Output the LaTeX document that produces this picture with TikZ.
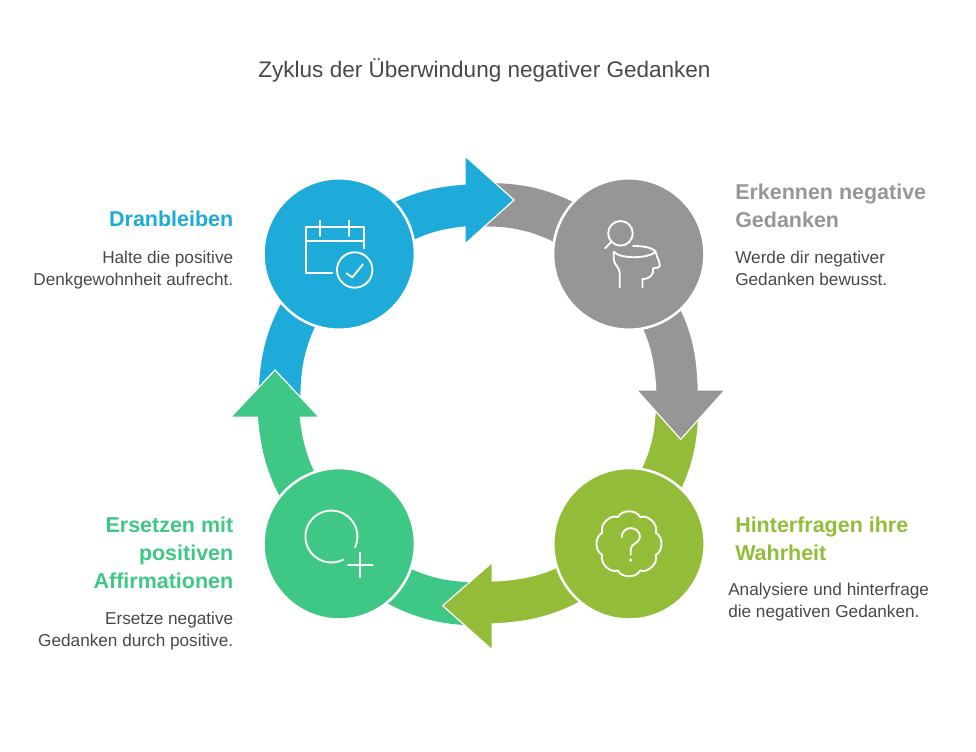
\documentclass[tikz,border=0pt]{standalone}
\usepackage{fontspec}
\setmainfont{Liberation Sans}
\definecolor{ringblue}{HTML}{1EABDA}
\definecolor{ringgray}{HTML}{969696}
\definecolor{ringlime}{HTML}{93BD39}
\definecolor{ringgreen}{HTML}{3FC786}
\definecolor{inktext}{HTML}{484848}
\tikzset{
ball/.style={circle, draw=white, line width=1.9pt, inner sep=0pt, outer sep=0pt, minimum size=113.6pt},
head/.style={draw=white, line width=0.9pt, miter limit=10},
icon/.style={draw=white, line width=1.4pt, line cap=round, line join=round},
titletext/.style={inner sep=0pt, text=inktext, font=\fontsize{16.9pt}{21pt}\selectfont},
headtext/.style={inner sep=0pt, font=\fontsize{16.1pt}{20.8pt}\selectfont\bfseries},
bodytext/.style={inner sep=0pt, text=inktext, font=\fontsize{12.9pt}{16.5pt}\selectfont},
calendar/.pic={
  \draw[icon] (-6.8,18.7) -- (-33.5,18.7) -- (-33.5,-27.3) -- (24.8,-27.3) -- (24.8,-5.7);
  \draw[icon] (-33.5,-13.3) -- (24.8,-13.3);
  \draw[icon] (-19.5,-33.3) -- (-19.5,-18);
  \draw[icon] (9.5,-33.3) -- (9.5,-18);
  \draw[icon] (15.5,16) circle [radius=17.7];
  \draw[icon] (7.2,19.3) -- (13.2,23.3) -- (23.8,10.3);
  },
headlens/.pic={
  \draw[icon] (-8.3,-20.7) circle [radius=12.3];
  \draw[icon] (-17.3,-12.3) -- (-23.7,-5.7);
  \draw[icon] (4.3,-8) .. controls (13,-8) and (23,-7) .. (26.7,-2.3) .. controls (22,4) and (-8,6) .. (-15,-2.3);
  \draw[icon] (26.7,-2.3) .. controls (28,3) and (31,7) .. (31,12) .. controls (30,14) and (26,14) .. (24.3,14.3) .. controls (25,20) and (22,25) .. (13.7,25) -- (13.7,33.3);
  \draw[icon] (-15,-2.3) -- (-15,6) .. controls (-14,12) and (-9,13) .. (-9,20) -- (-9,33.3);
  },
cloudask/.pic={
  \foreach \a in {0,45,...,315}
    \draw[icon] (\a-22.5:29) to[bend left=62] (\a+22.5:29);
  \draw[icon] (-7.3,-6.7) .. controls (-7.3,-12) and (-3,-15.7) .. (1.7,-15.7) .. controls (7,-15.7) and (11,-12) .. (11,-6.7) .. controls (11,-1) and (1.7,0) .. (1.7,5.3) -- (1.7,11);
  \fill[white] (1.7,16.3) circle [radius=1.8];
  },
ringplus/.pic={
  \draw[icon] (-7.8,-7.3) ++(62:26) arc [start angle=62, end angle=385, radius=26];
  \draw[icon] (21.2,9) -- (21.2,33.6);
  \draw[icon] (8.9,21.3) -- (33.5,21.3);
  }
}
\begin{document}
\begin{tikzpicture}[x=0.75pt, y=-0.75pt]
  \useasboundingbox (0,0) rectangle (976,751);
  \node[titletext] (title) at (484.5,70.5) {Zyklus der Überwindung negativer Gedanken};

  \coordinate (bluec) at (339.2,254);
  \coordinate (grayc) at (628.8,254);
  \coordinate (limec) at (629,543.8);
  \coordinate (greenc) at (339.2,543.8);

  \fill[ringgray] (484,183) to[bend left=14] (585,208) -- (grayc) -- (575,254) to[bend right=18] (470,227) -- cycle;
  \fill[ringlime] (698.5,405) to[bend left=15] (667,515) -- (limec) -- (630,490) to[bend right=16] (656,400) -- cycle;
  \fill[ringgreen] (490,625.5) to[bend left=17] (365,590) -- (greenc) -- (385,555) to[bend right=17] (490,582) -- cycle;
  \fill[ringblue] (258.5,400) to[bend left=16] (295,280) -- (bluec) -- (330,300) to[bend right=17] (300.5,405) -- cycle;

  \filldraw[ringblue, head] (bluec) -- (375,212) to[bend left=13] (465,184) -- (465,156) -- (514,200) -- (465,244) -- (465,227) to[bend right=12] (398,249) -- cycle;
  \filldraw[ringgray, head] (grayc) -- (664,280) to[bend left=16] (698.3,390) -- (725,390) -- (680.7,439.3) -- (636.7,390) -- (655.7,390) to[bend right=18] (618,291) -- cycle;
  \filldraw[ringlime, head] (limec) -- (602,589) to[bend left=15] (492.3,624) -- (492.3,650) -- (442.7,605.7) -- (492.3,562.3) -- (492.3,581) to[bend right=17] (592,546) -- cycle;
  \filldraw[ringgreen, head] (greenc) -- (293,520) to[bend left=14] (257.3,417.3) -- (230.7,417.3) -- (275,370) -- (319.3,417.3) -- (300.3,417.3) to[bend right=12] (325,490) -- cycle;

  \node[ball, fill=ringblue] (dranbleiben) at (bluec) {};
  \node[ball, fill=ringgray] (erkennen) at (grayc) {};
  \node[ball, fill=ringlime] (hinterfragen) at (limec) {};
  \node[ball, fill=ringgreen] (ersetzen) at (greenc) {};

  \pic at (dranbleiben) {calendar};
  \pic at (erkennen) {headlens};
  \pic at (hinterfragen) {cloudask};
  \pic at (ersetzen) {ringplus};

  \node[headtext, text=ringblue, anchor=north east, align=right] (dranhead) at (233.5,211) {Dranbleiben};
  \node[bodytext, anchor=north east, align=right] (dranbody) at (233.5,250.5) {Halte die positive\\Denkgewohnheit aufrecht.};
  \node[headtext, text=ringgray, anchor=north west, align=left] (erkhead) at (735,184) {Erkennen negative\\Gedanken};
  \node[bodytext, anchor=north west, align=left] (erkbody) at (735,250.5) {Werde dir negativer\\Gedanken bewusst.};
  \node[headtext, text=ringlime, anchor=north west, align=left] (hinhead) at (735,517) {Hinterfragen ihre\\Wahrheit};
  \node[bodytext, anchor=north west, align=left] (hinbody) at (728,582.5) {Analysiere und hinterfrage\\die negativen Gedanken.};
  \node[headtext, text=ringgreen, anchor=north east, align=right] (ershead) at (233.5,517) {Ersetzen mit\\positiven\\Affirmationen};
  \node[bodytext, anchor=north east, align=right] (ersbody) at (233.5,611.5) {Ersetze negative\\Gedanken durch positive.};
\end{tikzpicture}
\end{document}
